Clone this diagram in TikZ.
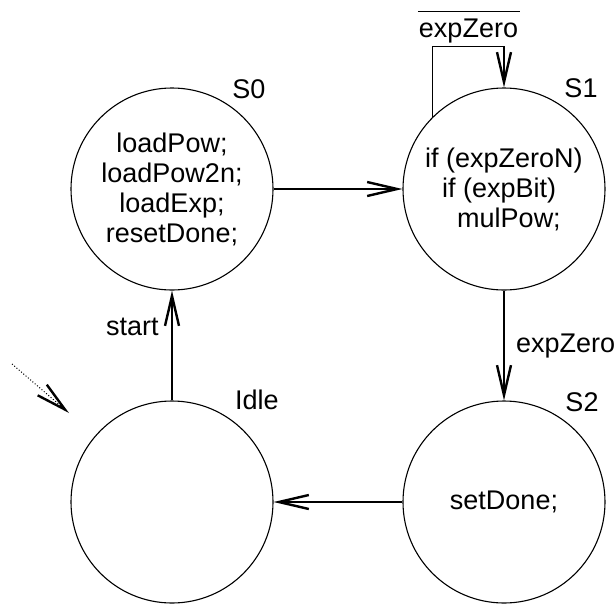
\documentclass[tikz,border=0pt]{standalone}
\usepackage{fontspec}
\setmainfont{Liberation Sans}
\usetikzlibrary{arrows.meta}
\begin{document}
\begin{tikzpicture}[x=1pt,y=-1pt,
  state/.style={circle,draw,line width=1.1pt,minimum size=202pt,inner sep=0pt,
    font=\fontsize{27}{30}\selectfont,align=center},
  lbl/.style={font=\fontsize{27}{30}\selectfont,inner sep=0pt},
  arr/.style={line width=1.8pt,-{Straight Barb[length=30pt,width=14pt,line width=2.4pt]}},
]
\useasboundingbox (0,0) rectangle (616,606);
\node[state] (S0) at (172,189) {loadPow;\\loadPow2n;\\loadExp;\\resetDone;};
\node[state,align=left] (S1) at (504,189) {if (expZeroN)\\\hspace*{17pt}if (expBit)\\\hspace*{32pt}mulPow;};
\node[state] (Idle) at (172,502) {};
\node[state] (S2) at (504,502) {setDone;};

\node[lbl,anchor=base] (lS0) at (249,98) {S0};
\node[lbl,anchor=base] (lS1) at (581,97) {S1};
\node[lbl,anchor=base] (lS2) at (582,411) {S2};
\node[lbl,anchor=base west] (lIdle) at (235,409) {Idle};

\draw[arr] (S0) -- (S1);
\draw[arr] (S1) -- (S2);
\node[lbl,anchor=base west] (lez) at (516,352) {expZero};
\draw[arr] (S2) -- (Idle);
\draw[arr] (Idle) -- (S0);
\node[lbl,anchor=base west] (lstart) at (106,335) {start};

\draw[arr,line width=1.3pt] (S1.135) -- ++(0,-71) -| (S1.north);
\node[lbl,anchor=base] (lnz) at (468.5,37) {expZero};
\draw[line width=1.3pt] ([xshift=-1pt,yshift=6.5pt]lnz.north west) -- ([xshift=2pt,yshift=6.5pt]lnz.north east);

\coordinate (init) at (12,364);
\coordinate (initend) at (69,413);
\draw[arr,line width=1pt,dash pattern=on 1pt off 2pt] (init) -- (initend);
\end{tikzpicture}
\end{document}
